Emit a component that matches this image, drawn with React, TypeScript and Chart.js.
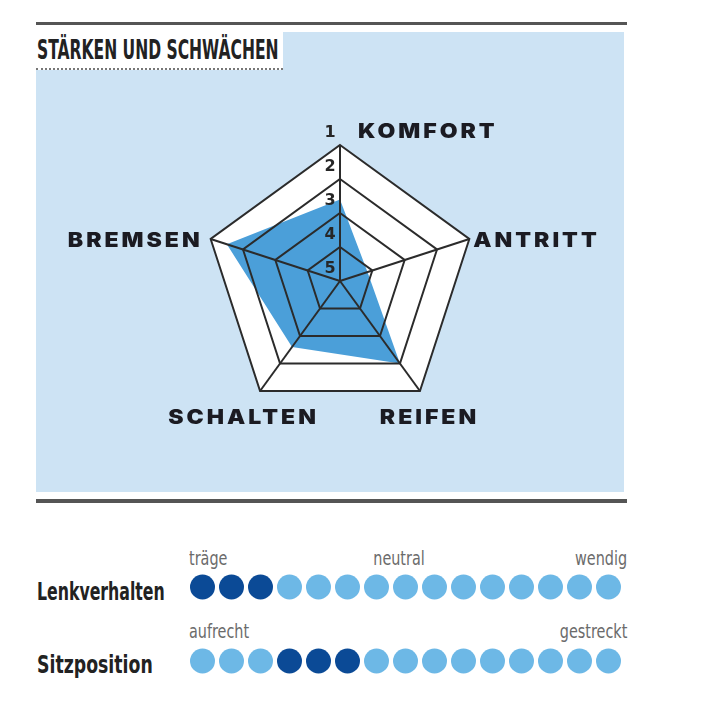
import React, { useEffect, useRef } from "react";
import { Chart, registerables } from "chart.js";

Chart.register(...registerables);

// Radar: Stärken und Schwächen (1 = best, outer ring)
const criteria = ["KOMFORT", "ANTRITT", "REIFEN", "SCHALTEN", "BREMSEN"];
const ratings = [2.6, 4.15, 2, 2.6, 1.5];
const ratingTicks = [1, 2, 3, 4, 5];

// Dot scales below the radar
const dotSteps = [1, 2, 3, 4, 5, 6, 7, 8, 9, 10, 11, 12, 13, 14, 15];
const lenkverhaltenActive = [1, 2, 3];
const sitzpositionActive = [4, 5, 6];

const BLUE_BG = "#cde3f4";
const AREA = "#4b9fd9";
const LINE = "#2b2b2b";
const DOT_DARK = "#0b4a96";
const DOT_LIGHT = "#6db8e6";

const LABEL_SPACING = 2.6;
const LABEL_STRETCH = 1.15;
// where each criterion label sits relative to its outer vertex
const labelOffsets = [
  { dx: 18, dy: -13, align: "left" },
  { dx: 4, dy: 2, align: "left" },
  { dx: 8, dy: 27, align: "center" },
  { dx: -18, dy: 27, align: "center" },
  { dx: -11, dy: 2, align: "right" },
];

const radarDecor = {
  id: "radarDecor",
  beforeDraw(chart: any) {
    const r = chart.scales.r;
    const ctx = chart.ctx;
    ctx.save();
    ctx.beginPath();
    criteria.forEach((_, i) => {
      const p = r.getPointPosition(i, r.drawingArea);
      if (i === 0) ctx.moveTo(p.x, p.y);
      else ctx.lineTo(p.x, p.y);
    });
    ctx.closePath();
    ctx.fillStyle = "#ffffff";
    ctx.fill();
    ctx.restore();
  },
  afterDraw(chart: any) {
    const r = chart.scales.r;
    const ctx = chart.ctx;
    ctx.save();
    ctx.textBaseline = "middle";

    // scale numbers along the top axis
    ctx.font = "bold 16px 'DejaVu Sans'";
    ctx.fillStyle = "#262626";
    ctx.textAlign = "center";
    ratingTicks.forEach((v) => {
      const d = r.getDistanceFromCenterForValue(v);
      ctx.fillText(String(v), r.xCenter - 10, r.yCenter - d - 12);
    });

    // criterion labels, a bit stretched like the print font
    ctx.font = "900 20px Inter, 'DejaVu Sans'";
    ctx.fillStyle = "#1b1b22";
    ctx.textAlign = "left";
    (ctx as any).letterSpacing = LABEL_SPACING + "px";
    criteria.forEach((name, i) => {
      const p = r.getPointPosition(i, r.drawingArea);
      const o = labelOffsets[i];
      const w = (ctx.measureText(name).width - LABEL_SPACING) * LABEL_STRETCH;
      let x = p.x + o.dx;
      if (o.align === "right") x -= w;
      else if (o.align === "center") x -= w / 2;
      ctx.save();
      ctx.translate(x, p.y + o.dy);
      ctx.scale(LABEL_STRETCH, 1);
      ctx.fillText(name, 0, 0);
      ctx.restore();
    });
    ctx.restore();
  },
};

const narrow = "'Liberation Sans Narrow', 'DejaVu Sans Condensed', sans-serif";

const App: React.FC = () => {
  const radarRef = useRef<HTMLCanvasElement>(null!);
  const dotsRef = useRef<HTMLCanvasElement>(null!);

  useEffect(() => {
    document.body.style.margin = "0";

    const radar = new Chart(radarRef.current, {
      type: "radar",
      data: {
        labels: criteria,
        datasets: [
          {
            data: ratings,
            backgroundColor: AREA,
            borderWidth: 0,
            pointRadius: 0,
            pointHoverRadius: 0,
            fill: "start",
          },
        ],
      },
      options: {
        responsive: false,
        animation: false,
        layout: { autoPadding: false, padding: { left: 168, right: 148, top: 75, bottom: 75 } },
        plugins: { legend: { display: false }, tooltip: { enabled: false } },
        elements: { line: { tension: 0 } },
        scales: {
          r: {
            min: 1,
            max: 5,
            reverse: true,
            ticks: { display: false, stepSize: 1, reverse: true, z: 1 } as any,
            pointLabels: { display: false },
            grid: { color: LINE, lineWidth: 2, z: 1 },
            angleLines: { color: LINE, lineWidth: 2 },
          },
        },
      },
      plugins: [radarDecor],
    });

    const dotColors = (active: number[]) =>
      dotSteps.map((s) => (active.includes(s) ? DOT_DARK : DOT_LIGHT));

    const dots = new Chart(dotsRef.current, {
      type: "scatter",
      data: {
        datasets: [
          {
            label: "Lenkverhalten",
            data: dotSteps.map((s) => ({ x: s, y: 2 })),
            backgroundColor: dotColors(lenkverhaltenActive),
            clip: false,
          },
          {
            label: "Sitzposition",
            data: dotSteps.map((s) => ({ x: s, y: 1 })),
            backgroundColor: dotColors(sitzpositionActive),
            clip: false,
          },
        ],
      },
      options: {
        responsive: false,
        animation: false,
        layout: { autoPadding: false, padding: 0 },
        plugins: { legend: { display: false }, tooltip: { enabled: false } },
        elements: { point: { radius: 12.5, hoverRadius: 12.5, borderWidth: 0 } },
        scales: {
          x: { display: false, min: 0.5, max: 15.5 },
          y: { display: false, min: 0.7432, max: 2.2297 },
        },
      },
    });

    return () => {
      radar.destroy();
      dots.destroy();
    };
  }, []);

  const small: React.CSSProperties = {
    position: "absolute",
    fontFamily: narrow,
    fontSize: 20,
    lineHeight: "20px",
    color: "#6b6b6b",
    whiteSpace: "nowrap",
  };
  const rowLabel: React.CSSProperties = {
    position: "absolute",
    left: 37,
    fontFamily: narrow,
    fontWeight: "bold",
    fontSize: 25,
    lineHeight: "25px",
    color: "#222",
    transformOrigin: "left center",
    whiteSpace: "nowrap",
  };

  return (
    <div style={{ position: "absolute", left: 0, top: 0, width: 710, height: 720, background: "#fff" }}>
      <div style={{ position: "absolute", left: 36, top: 22, width: 591, height: 3, background: "#555" }} />
      <div style={{ position: "absolute", left: 36, top: 32, width: 588, height: 460, background: BLUE_BG }} />
      <div
        style={{
          position: "absolute",
          left: 36,
          top: 32,
          width: 247,
          height: 36,
          background: "#fff",
          borderBottom: "2px dotted #777",
        }}
      />
      <div
        style={{
          position: "absolute",
          left: 37,
          top: 36,
          fontFamily: narrow,
          fontWeight: "bold",
          fontSize: 27,
          lineHeight: "27px",
          color: "#222",
          transform: "scaleX(0.64)",
          transformOrigin: "left center",
          whiteSpace: "nowrap",
        }}
      >
        STÄRKEN UND SCHWÄCHEN
      </div>
      <canvas
        ref={radarRef}
        width={588}
        height={422}
        style={{ position: "absolute", left: 36, top: 70, width: 588, height: 422 }}
      />
      <div style={{ position: "absolute", left: 36, top: 499, width: 591, height: 4, background: "#555" }} />

      <div style={{ ...small, left: 189, top: 548, transform: "scaleX(0.8)", transformOrigin: "left center" }}>träge</div>
      <div style={{ ...small, left: 399, top: 548, transform: "translateX(-50%) scaleX(0.8)" }}>neutral</div>
      <div style={{ ...small, right: 710 - 627, top: 548, transform: "scaleX(0.8)", transformOrigin: "right center" }}>wendig</div>
      <div style={{ ...rowLabel, top: 579, transform: "scaleX(0.70)" }}>Lenkverhalten</div>

      <div style={{ ...small, left: 189, top: 621, transform: "scaleX(0.8)", transformOrigin: "left center" }}>aufrecht</div>
      <div style={{ ...small, right: 710 - 627, top: 621, transform: "scaleX(0.8)", transformOrigin: "right center" }}>gestreckt</div>
      <div style={{ ...rowLabel, top: 652, transform: "scaleX(0.77)" }}>Sitzposition</div>

      <canvas
        ref={dotsRef}
        width={435}
        height={110}
        style={{ position: "absolute", left: 188, top: 570, width: 435, height: 110 }}
      />
    </div>
  );
};

export default App;
